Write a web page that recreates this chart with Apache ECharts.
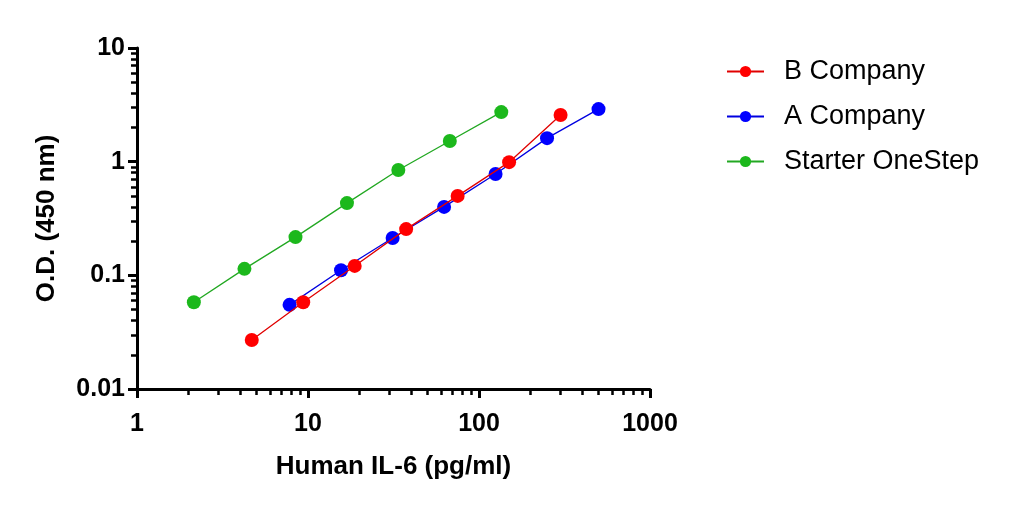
<!DOCTYPE html>
<html><head><meta charset="utf-8">
<script src="https://cdn.jsdelivr.net/npm/echarts@6/dist/echarts.min.js"></script>
<style>html,body{margin:0;padding:0;background:#fff}#c{width:1014px;height:506px}</style>
</head><body><div id="c"></div>
<script>
const seriesNames = ['B Company', 'A Company', 'Starter OneStep'];
const bX = [4.69, 9.375, 18.75, 37.5, 75, 150, 300];
const bY = [0.027, 0.058, 0.121, 0.255, 0.50, 0.99, 2.57];
const aX = [7.8, 15.6, 31.25, 62.5, 125, 250, 500];
const aY = [0.055, 0.111, 0.213, 0.40, 0.78, 1.61, 2.9];
const sX = [2.15, 4.25, 8.45, 16.9, 33.75, 67.5, 135];
const sY = [0.058, 0.114, 0.217, 0.432, 0.844, 1.52, 2.73];
const xMajor = [1, 10, 100, 1000];
const yMajor = [0.01, 0.1, 1, 10];
const xMinor = [2,3,4,5,6,7,8,9,20,30,40,50,60,70,80,90,200,300,400,500,600,700,800,900];
const yMinor = [0.02,0.03,0.04,0.05,0.06,0.07,0.08,0.09,0.2,0.3,0.4,0.5,0.6,0.7,0.8,0.9,2,3,4,5,6,7,8,9];
const colors = ['#ff0000', '#0000ff', '#1cb81c'];
const lineColors = ['#e00000', '#0000e0', '#22a822'];

const zip = (xs, ys) => xs.map((x, i) => [x, ys[i]]);
const font = 'Liberation Sans, Arial, sans-serif';
const chart = echarts.init(document.getElementById('c'));
const axisLine = {show: true, onZero: false, lineStyle: {color: '#000', width: 3}};
chart.setOption({
  animation: false,
  grid: {left: 137, right: 364, top: 48, bottom: 117, containLabel: false},
  legend: {
    data: seriesNames, orient: 'vertical', left: 721, top: 53,
    itemWidth: 37, itemHeight: 14, itemGap: 18,
    textStyle: {fontFamily: font, fontSize: 27, color: '#000', padding: [0, 0, 0, 15]}
  },
  xAxis: [{
    type: 'log', logBase: 10, min: 1, max: 1000,
    name: 'Human IL-6 (pg/ml)', nameLocation: 'middle', nameGap: 65,
    nameTextStyle: {fontFamily: font, fontSize: 26, fontWeight: 'bold', color: '#000'},
    axisLine: axisLine,
    axisTick: {show: true, inside: false, length: 9, lineStyle: {color: '#000', width: 3}, customValues: xMajor},
    axisLabel: {fontFamily: font, fontSize: 25, fontWeight: 'bold', color: '#000', margin: 23, customValues: xMajor, formatter: v => String(v)},
    splitLine: {show: false}, minorTick: {show: false}, minorSplitLine: {show: false}
  }, {
    type: 'log', logBase: 10, min: 1, max: 1000, position: 'bottom',
    axisLine: {show: false},
    axisTick: {show: true, length: 6, lineStyle: {color: '#000', width: 2.5}, customValues: xMinor},
    axisLabel: {show: false}, splitLine: {show: false}
  }],
  yAxis: [{
    type: 'log', logBase: 10, min: 0.01, max: 10,
    name: 'O.D. (450 nm)', nameLocation: 'middle', nameGap: 77, nameRotate: 90,
    nameTextStyle: {fontFamily: font, fontSize: 26, fontWeight: 'bold', color: '#000'},
    axisLine: axisLine,
    axisTick: {show: true, inside: false, length: 9, lineStyle: {color: '#000', width: 3}, customValues: yMajor},
    axisLabel: {fontFamily: font, fontSize: 25, fontWeight: 'bold', color: '#000', margin: 12, customValues: yMajor, formatter: v => String(v)},
    splitLine: {show: false}, minorTick: {show: false}
  }, {
    type: 'log', logBase: 10, min: 0.01, max: 10, position: 'left',
    axisLine: {show: false},
    axisTick: {show: true, length: 6, lineStyle: {color: '#000', width: 2.5}, customValues: yMinor},
    axisLabel: {show: false}, splitLine: {show: false}
  }],
  series: [
    {name: seriesNames[0], type: 'line', data: zip(bX, bY)},
    {name: seriesNames[1], type: 'line', data: zip(aX, aY)},
    {name: seriesNames[2], type: 'line', data: zip(sX, sY)}
  ].map((s, i) => Object.assign(s, {
    symbol: 'circle', symbolSize: 14, z: 3 - i,
    itemStyle: {color: colors[i]},
    lineStyle: {color: lineColors[i], width: 1.3}
  }))
});
</script></body></html>
